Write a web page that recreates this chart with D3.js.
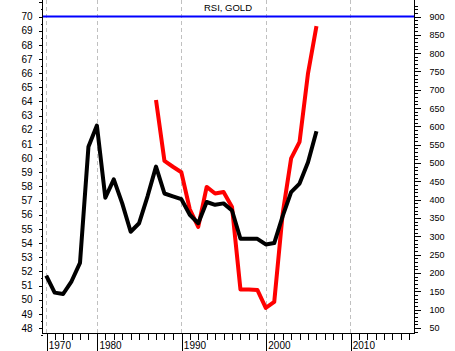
<!DOCTYPE html>
<html><head><meta charset="utf-8">
<script src="https://cdn.jsdelivr.net/npm/d3@7"></script>
<style>
body{margin:0;background:#fff;}
svg{display:block;font-family:"Liberation Sans",Arial,sans-serif;}
</style></head>
<body><svg id="c" width="455" height="351"></svg>
<script>
// ---- data ----
const rsiYears = [1974,1975,1976,1977,1978,1979,1980,1981,1982,1983,1984,1985,1986,1987,1988,1989,1990,1991,1992,1993,1994,1995,1996,1997,1998,1999,2000,2001,2002,2003,2004,2005,2006];
const rsiValues = [51.7,50.5,50.4,51.3,52.6,60.8,62.3,57.2,58.5,56.8,54.8,55.4,57.3,59.4,57.5,57.3,57.1,56.0,55.4,56.9,56.7,56.8,56.3,54.3,54.3,54.3,53.9,54.0,55.9,57.6,58.2,59.7,61.9];
const goldYears = [1987,1988,1989,1990,1991,1992,1993,1994,1995,1996,1997,1998,1999,2000,2001,2002,2003,2004,2005,2006];
const goldValues = [672,506,490,475,374,326,435,417,421,380,155,155,154,105,121,362,513,558,745,874];
const leftTicks = [48,49,50,51,52,53,54,55,56,57,58,59,60,61,62,63,64,65,66,67,68,69,70];
const rightTicks = [50,100,150,200,250,300,350,400,450,500,550,600,650,700,750,800,850,900];
const xTickYears = [1974,1980,1990,2000,2010];
const xTickLabels = ["1970","1980","1990","2000","2010"];
const title = "RSI, GOLD";
const rsiLevel = 70;

// ---- layout ----
const L = 42, R = 414, T = 0, B = 333;
const svg = d3.select("#c");
const x = d3.scaleLinear().domain([1973.5, 2017.55]).range([L, R]);
const yL = d3.scaleLinear().domain([48, 70]).range([328, 16.5]);
const yR = d3.scaleLinear().domain([50, 900]).range([328, 16.5]);

// grid
svg.append("g").selectAll("line").data(xTickYears).join("line")
  .attr("x1", d => Math.round(x(d)) + 0.5).attr("x2", d => Math.round(x(d)) + 0.5)
  .attr("y1", T).attr("y2", B)
  .attr("stroke", "#c0c0c0").attr("stroke-dasharray", "4,3");

// lines
const lineL = d3.line().x((d,i) => x(rsiYears[i])).y(d => yL(d));
const lineR = d3.line().x((d,i) => x(goldYears[i])).y(d => yR(d));

svg.append("path").datum(goldValues).attr("d", lineR)
  .attr("fill", "none").attr("stroke", "#ff0000").attr("stroke-width", 4).attr("stroke-linejoin", "round");
svg.append("path").datum(rsiValues).attr("d", lineL)
  .attr("fill", "none").attr("stroke", "#000").attr("stroke-width", 4).attr("stroke-linejoin", "round");

// RSI 70 line
svg.append("line").attr("x1", L).attr("x2", R)
  .attr("y1", yL(rsiLevel)).attr("y2", yL(rsiLevel))
  .attr("stroke", "#0000ff").attr("stroke-width", 2);

// left axis
const minorL = d3.range(47.5, 71.01, 0.5).filter(v => v % 1 !== 0);
svg.append("g").attr("transform", `translate(${L + 0.5},0)`)
  .call(d3.axisLeft(yL).tickValues(minorL).tickSize(2).tickFormat(""))
  .call(g => g.select(".domain").remove());
svg.append("g").attr("transform", `translate(${L + 0.5},0)`)
  .call(d3.axisLeft(yL).tickValues(leftTicks.concat([71])).tickSize(4).tickPadding(6).tickFormat(d => d > 70 ? "" : d))
  .call(g => g.select(".domain").remove())
  .call(g => g.selectAll("text").attr("font-size", 10).attr("fill", "#000").attr("font-family", "Liberation Sans, Arial"));

// right axis
const minorR = d3.range(40, 931, 10).filter(v => v % 50 !== 0);
svg.append("g").attr("transform", `translate(${R + 0.5},0)`)
  .call(d3.axisRight(yR).tickValues(minorR).tickSize(3).tickFormat(""))
  .call(g => g.select(".domain").remove());
svg.append("g").attr("transform", `translate(${R + 0.5},0)`)
  .call(d3.axisRight(yR).tickValues(rightTicks.concat([950])).tickSize(6).tickPadding(9).tickFormat(d => d > 900 ? "" : d))
  .call(g => g.select(".domain").remove())
  .call(g => g.selectAll("text").attr("font-size", 9).attr("fill", "#000").attr("font-family", "Liberation Sans, Arial"));

// bottom axis
const minorX = d3.range(1974, 2018).filter(v => !xTickYears.includes(v));
svg.append("g").attr("transform", `translate(0,${B + 0.5})`)
  .call(d3.axisBottom(x).tickValues(minorX).tickSize(6).tickFormat(""))
  .call(g => g.select(".domain").remove());
const xb = svg.append("g").attr("transform", `translate(0,${B + 0.5})`)
  .call(d3.axisBottom(x).tickValues(xTickYears).tickSize(17).tickFormat((d,i) => xTickLabels[i]))
  .call(g => g.select(".domain").remove());
xb.selectAll(".tick line").attr("transform", "translate(0.5,0)");
xb.selectAll("text").attr("text-anchor", "start").attr("x", 2).attr("y", 8).attr("dy", "0.71em")
  .attr("font-size", 10).attr("fill", "#000").attr("font-family", "Liberation Sans, Arial");
svg.selectAll(".tick line").attr("stroke", "#000").attr("shape-rendering", "crispEdges");

// axis lines
svg.append("line").attr("x1", L + 0.5).attr("x2", L + 0.5).attr("y1", T).attr("y2", B + 1).attr("stroke", "#000");
svg.append("line").attr("x1", R + 0.5).attr("x2", R + 0.5).attr("y1", T).attr("y2", B + 1).attr("stroke", "#000");
svg.append("line").attr("x1", L).attr("x2", R + 1).attr("y1", B + 0.5).attr("y2", B + 0.5).attr("stroke", "#000");

// title
svg.append("text").attr("x", (L + R) / 2).attr("y", 11).attr("text-anchor", "middle")
  .attr("font-size", 9.5).attr("fill", "#000").text(title);
</script></body></html>
